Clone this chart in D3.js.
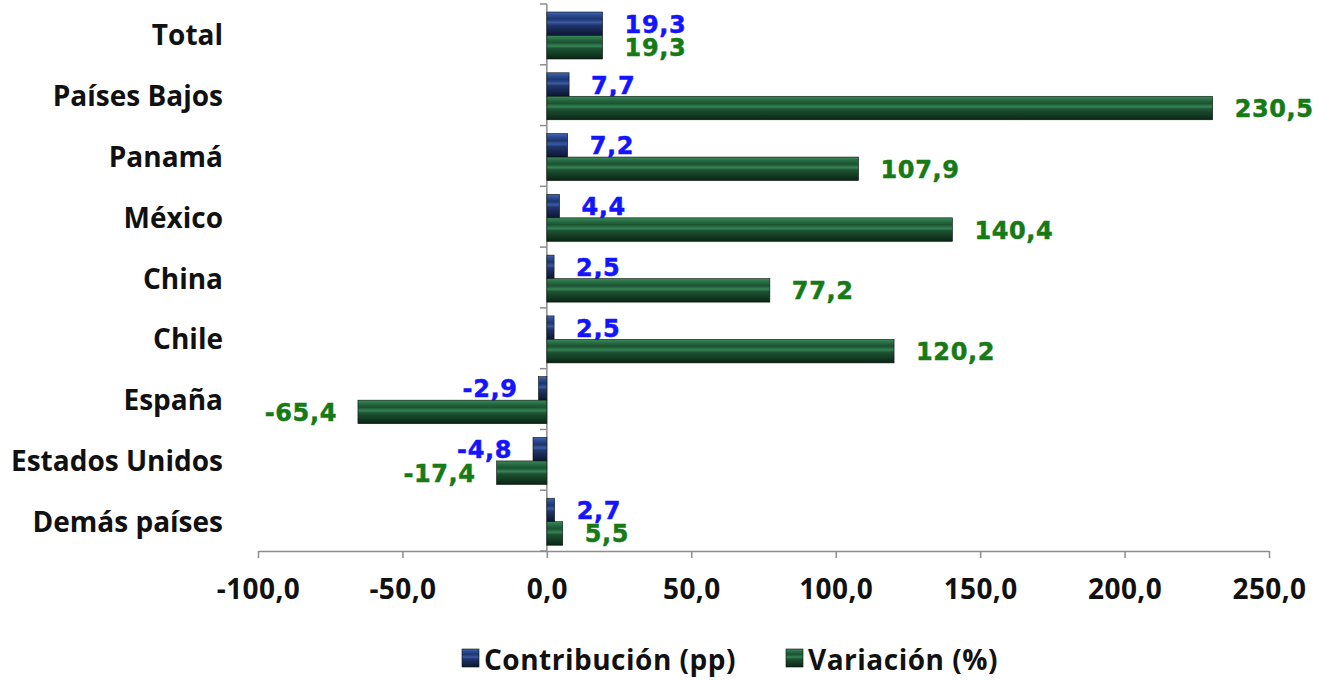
<!DOCTYPE html>
<html>
<head>
<meta charset="utf-8">
<script src="https://cdn.jsdelivr.net/npm/d3@7"></script>
<style>
  body { margin: 0; background: #fff; }
  svg { display: block; }
</style>
</head>
<body>
<div id="chart"></div>
<script>

// Data
let categories = ["Total", "Países Bajos", "Panamá", "México", "China", "Chile", "España", "Estados Unidos", "Demás países"];
let contribucion = [19.3, 7.7, 7.2, 4.4, 2.5, 2.5, -2.9, -4.8, 2.7];
let variacion = [19.3, 230.5, 107.9, 140.4, 77.2, 120.2, -65.4, -17.4, 5.5];
let xTicks = [-100, -50, 0, 50, 100, 150, 200, 250];
let seriesNames = ["Contribución (pp)", "Variación (%)"];

let width = 1325, height = 681;
let fmt = d => d3.format(".1f")(d).replace(".", ",").replace("\u2212", "-");

let svg = d3.select("#chart")
    .append("svg")
    .attr("width", width)
    .attr("height", height);

// Bevel-like gradients for both series
let defs = svg.append("defs");
function bevel(id, stops) {
    let g = defs.append("linearGradient")
        .attr("id", id)
        .attr("x1", 0).attr("y1", 0).attr("x2", 0).attr("y2", 1);
    stops.forEach(s => g.append("stop").attr("offset", s[0]).attr("stop-color", s[1]));
}
bevel("gBlue", [[0, "#4366b0"], [0.15, "#2a4a92"], [0.3, "#1d3670"], [0.45, "#3a5aa2"], [0.55, "#22366e"], [0.8, "#14244c"], [1, "#0c1632"]]);
bevel("gGreen", [[0, "#3c8a5a"], [0.15, "#266c42"], [0.3, "#1b5232"], [0.45, "#358355"], [0.55, "#1d5233"], [0.8, "#123a22"], [1, "#0a2414"]]);

let x = d3.scaleLinear().domain([-100, 250]).range([258, 1269]);
let y = d3.scaleBand().domain(categories).range([4, 551]);

let axisColor = "#8c8c8c";
let textFont = "'Open Sans', Lato, sans-serif";

// Category axis (vertical line at zero with tick marks at band edges)
svg.append("line")
    .attr("x1", x(0)).attr("x2", x(0))
    .attr("y1", 4).attr("y2", 551)
    .attr("stroke", axisColor).attr("stroke-width", 1.5);

let edges = categories.map(c => y(c)).concat([551]);
svg.selectAll(".ytick")
    .data(edges)
    .enter()
    .append("line")
    .attr("x1", x(0) - 7).attr("x2", x(0))
    .attr("y1", d => d).attr("y2", d => d)
    .attr("stroke", axisColor).attr("stroke-width", 1.5);

svg.selectAll(".cat")
    .data(categories)
    .enter()
    .append("text")
    .attr("x", 223)
    .attr("y", d => y(d) + y.bandwidth() / 2)
    .attr("text-anchor", "end")
    .attr("dominant-baseline", "central")
    .style("font-family", textFont)
    .style("font-weight", 700)
    .style("font-size", "28px")
    .attr("fill", "#111")
    .text(d => d);

// Value axis at the bottom
let xAxis = svg.append("g")
    .attr("transform", "translate(0,551)")
    .call(d3.axisBottom(x).tickValues(xTicks).tickSize(7).tickSizeOuter(0).tickFormat(fmt));
xAxis.select(".domain").attr("stroke", axisColor).attr("stroke-width", 1.5);
xAxis.selectAll(".tick line").attr("stroke", axisColor).attr("stroke-width", 1.5);
xAxis.selectAll(".tick text")
    .attr("y", 28)
    .style("font-family", textFont)
    .style("font-weight", 700)
    .style("font-size", "28px")
    .style("letter-spacing", "0.4px")
    .attr("fill", "#111");

// Bars
let barH = 23.5;
let rows = categories.map((c, i) => ({ cat: c, c: contribucion[i], v: variacion[i] }));

function drawSeries(key, offset, fill, labelColor) {
    svg.selectAll(".bar-" + key)
        .data(rows)
        .enter()
        .append("rect")
        .attr("x", d => Math.min(x(0), x(d[key])))
        .attr("y", d => y(d.cat) + offset)
        .attr("width", d => Math.abs(x(d[key]) - x(0)))
        .attr("height", barH)
        .attr("fill", fill)
        .attr("stroke", "#08120c")
        .attr("stroke-width", 0.6);

    svg.selectAll(".lab-" + key)
        .data(rows)
        .enter()
        .append("text")
        .attr("x", d => d[key] >= 0 ? x(d[key]) + 22 : x(d[key]) - 21)
        .attr("y", d => y(d.cat) + offset + barH / 2 + 1)
        .attr("text-anchor", d => d[key] >= 0 ? "start" : "end")
        .attr("dominant-baseline", "central")
        .style("font-family", "'DejaVu Sans', Verdana, sans-serif")
        .style("font-weight", 700)
        .style("font-size", "24px")
        .style("letter-spacing", "0.6px")
        .attr("fill", labelColor)
        .attr("stroke", labelColor)
        .attr("stroke-width", 0.5)
        .text(d => fmt(d[key]));
}

drawSeries("c", 8, "url(#gBlue)", "#1414ff");
drawSeries("v", 8 + barH, "url(#gGreen)", "#167a16");

// Legend
let legend = [
    { name: seriesNames[0], fill: "url(#gBlue)", x: 462 },
    { name: seriesNames[1], fill: "url(#gGreen)", x: 786 }
];
let lg = svg.selectAll(".legend")
    .data(legend)
    .enter()
    .append("g")
    .attr("transform", d => "translate(" + d.x + ",649)");
lg.append("rect")
    .attr("width", 17).attr("height", 18)
    .attr("fill", d => d.fill)
    .attr("stroke", "#08120c").attr("stroke-width", 0.6);
lg.append("text")
    .attr("x", 22)
    .attr("y", 10)
    .attr("dominant-baseline", "central")
    .style("font-family", textFont)
    .style("font-weight", 700)
    .style("font-size", "28px")
    .style("letter-spacing", "0.5px")
    .attr("fill", "#111")
    .text(d => d.name);

</script>
</body>
</html>
